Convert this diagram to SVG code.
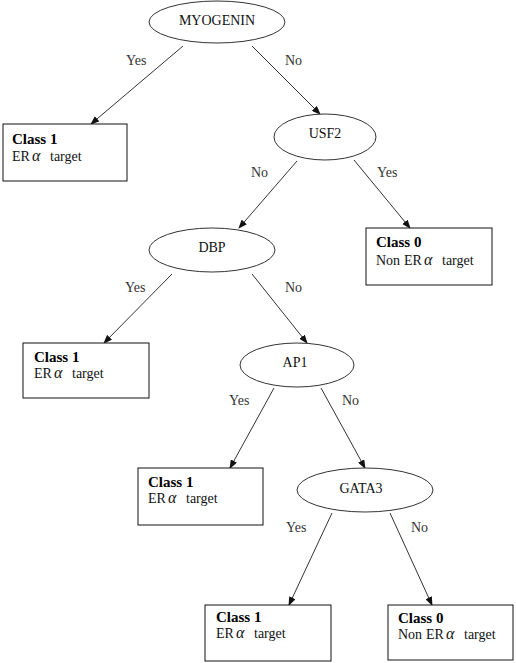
<svg xmlns="http://www.w3.org/2000/svg" width="516" height="663" viewBox="0 0 516 663">
<style>
.bg{fill:#fff}
.nd{fill:#fff;stroke:#333;stroke-width:1}
.bx{fill:#fff;stroke:#111;stroke-width:1}
.nt{font-family:"Liberation Serif","Times New Roman",serif;font-size:14px;fill:#111;text-anchor:middle}
.cl{font-family:"Liberation Serif","Times New Roman",serif;font-size:15px;font-weight:bold;fill:#000}
.tg{font-family:"Liberation Serif","Times New Roman",serif;font-size:14px;fill:#111}
.al{font-style:italic;font-size:16px}
.ed{stroke:#333;stroke-width:1;fill:none;marker-end:url(#ah)}
.el{font-family:"Liberation Serif","Times New Roman",serif;font-size:14px;fill:#333}
</style>
<defs>
<marker id="ah" markerWidth="9" markerHeight="7" refX="8" refY="3.5" orient="auto" markerUnits="userSpaceOnUse">
<path d="M0,0 L9,3.5 L0,7 Z" fill="#111"/>
</marker>
</defs>
<rect class="bg" x="0" y="0" width="516" height="663"/>
<g id="connectors">
<line class="ed" x1="183" y1="46" x2="91" y2="124"/>
<line class="ed" x1="252" y1="46" x2="320" y2="114"/>
<line class="ed" x1="297" y1="161" x2="239" y2="228"/>
<line class="ed" x1="354" y1="160" x2="410" y2="228"/>
<line class="ed" x1="172" y1="274" x2="104" y2="343"/>
<line class="ed" x1="252" y1="274" x2="307" y2="343"/>
<line class="ed" x1="274" y1="388" x2="230" y2="468"/>
<line class="ed" x1="321" y1="388" x2="365" y2="468"/>
<line class="ed" x1="332" y1="513" x2="289" y2="605"/>
<line class="ed" x1="390" y1="513" x2="432" y2="605"/>
<text class="el" x="126" y="65">Yes</text>
<text class="el" x="285" y="65">No</text>
<text class="el" x="251" y="177">No</text>
<text class="el" x="377" y="177">Yes</text>
<text class="el" x="125" y="292">Yes</text>
<text class="el" x="285" y="292">No</text>
<text class="el" x="229" y="405">Yes</text>
<text class="el" x="342" y="405">No</text>
<text class="el" x="286" y="532">Yes</text>
<text class="el" x="411" y="532">No</text>
</g>
<g id="myogenin">
<ellipse class="nd" cx="217" cy="22" rx="68" ry="21"/>
<text class="nt" x="217" y="25">MYOGENIN</text>
</g>
<g id="usf2">
<ellipse class="nd" cx="325" cy="137" rx="51" ry="23"/>
<text class="nt" x="325" y="138">USF2</text>
</g>
<g id="dbp">
<ellipse class="nd" cx="212" cy="250" rx="63" ry="22"/>
<text class="nt" x="212" y="252">DBP</text>
</g>
<g id="ap1">
<ellipse class="nd" cx="297" cy="365" rx="57" ry="22"/>
<text class="nt" x="295" y="367">AP1</text>
</g>
<g id="gata3">
<ellipse class="nd" cx="365" cy="490" rx="68" ry="22"/>
<text class="nt" x="361" y="493">GATA3</text>
</g>
<g id="class1a">
<rect class="bx" x="3" y="124" width="124" height="57"/>
<text class="cl" x="12" y="144">Class 1</text>
<text class="tg" y="161"><tspan x="12">ER</tspan><tspan class="al" x="32">α</tspan><tspan x="50">target</tspan></text>
</g>
<g id="class0a">
<rect class="bx" x="366" y="228" width="126" height="57"/>
<text class="cl" x="376" y="247">Class 0</text>
<text class="tg" y="265"><tspan x="376">Non</tspan><tspan x="404">ER</tspan><tspan class="al" x="424">α</tspan><tspan x="442">target</tspan></text>
</g>
<g id="class1b">
<rect class="bx" x="23" y="343" width="126" height="55"/>
<text class="cl" x="34" y="362">Class 1</text>
<text class="tg" y="378"><tspan x="34">ER</tspan><tspan class="al" x="54">α</tspan><tspan x="72">target</tspan></text>
</g>
<g id="class1c">
<rect class="bx" x="138" y="468" width="125" height="57"/>
<text class="cl" x="148" y="487">Class 1</text>
<text class="tg" y="503"><tspan x="148">ER</tspan><tspan class="al" x="168">α</tspan><tspan x="186">target</tspan></text>
</g>
<g id="class1d">
<rect class="bx" x="205" y="605" width="126" height="56"/>
<text class="cl" x="216" y="622">Class 1</text>
<text class="tg" y="638"><tspan x="216">ER</tspan><tspan class="al" x="236">α</tspan><tspan x="254">target</tspan></text>
</g>
<g id="class0b">
<rect class="bx" x="388" y="605" width="125" height="55"/>
<text class="cl" x="398" y="623">Class 0</text>
<text class="tg" y="639"><tspan x="398">Non</tspan><tspan x="426">ER</tspan><tspan class="al" x="446">α</tspan><tspan x="464">target</tspan></text>
</g>
</svg>
